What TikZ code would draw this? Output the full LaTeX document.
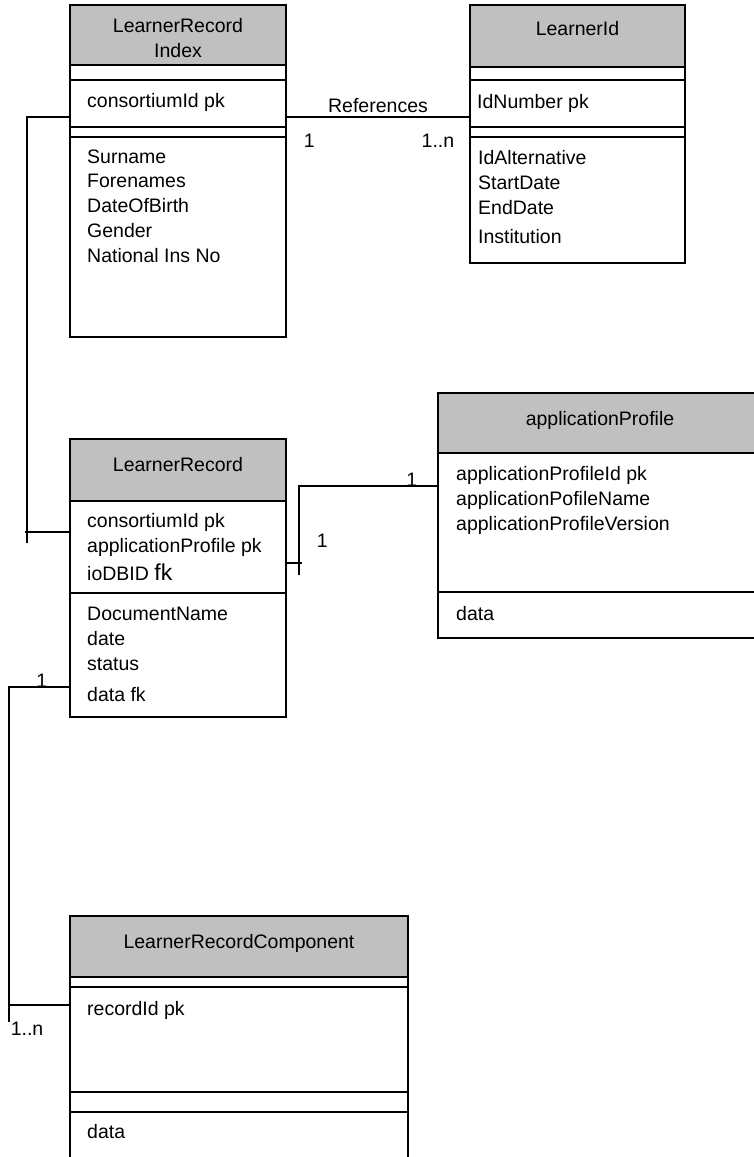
\documentclass[tikz,border=0pt]{standalone}
\usepackage{fontspec}
\setmainfont{Liberation Sans}
\usepackage{tikz}
\usetikzlibrary{positioning,calc}

\definecolor{hdrgray}{RGB}{192,192,192}

\begin{document}
\begin{tikzpicture}[
  x=1pt, y=-1pt,
  cell/.style={draw, line width=1.5pt, anchor=north west, inner sep=0pt, outer sep=0pt,
    minimum width=#1},
  hdr/.style={cell=#1, fill=hdrgray},
  title/.style={anchor=base, font=\fontsize{19.5}{25}\selectfont, align=center, inner sep=0pt},
  attr/.style={anchor=base west, font=\fontsize{19.5}{24.7}\selectfont, align=left, inner sep=0pt},
  link/.style={line width=1.5pt},
  card/.style={font=\fontsize{19.5}{24}\selectfont, inner sep=0pt},
]
\useasboundingbox (0,0) rectangle (754,1157);
\clip (0,0) rectangle (754,1157);

% LearnerRecord Index
\node[hdr=216pt, minimum height=60pt] (idxhead) at (70,5) {};
\node[cell=216pt, minimum height=15pt, below=0pt of idxhead] (idxgap) {};
\node[cell=216pt, minimum height=47pt, below=0pt of idxgap] (idxkey) {};
\node[cell=216pt, minimum height=10pt, below=0pt of idxkey] (idxgap2) {};
\node[cell=216pt, minimum height=200pt, below=0pt of idxgap2] (idxattr) {};
\node[title] (idxtitle) at (178,57) {LearnerRecord\\Index};
\node[attr] (idxpk) at (87,107) {consortiumId pk};
\node[attr] (idxfields) at (87,262) {Surname\\Forenames\\DateOfBirth\\Gender\\National Ins No};

% LearnerId
\node[hdr=215pt, minimum height=62pt] (lidhead) at (470,5) {};
\node[cell=215pt, minimum height=13pt, below=0pt of lidhead] (lidgap) {};
\node[cell=215pt, minimum height=47pt, below=0pt of lidgap] (lidkey) {};
\node[cell=215pt, minimum height=10pt, below=0pt of lidkey] (lidgap2) {};
\node[cell=215pt, minimum height=126pt, below=0pt of lidgap2] (lidattr) {};
\node[title] (lidtitle) at (577.5,35) {LearnerId};
\node[attr] (lidpk) at (477,108) {IdNumber pk};
\node[attr] (lidfields) at (478,243) {IdAlternative\\StartDate\\EndDate\\[4pt]Institution};

% LearnerRecord
\node[hdr=216pt, minimum height=62pt] (lrhead) at (70,439) {};
\node[cell=216pt, minimum height=92pt, below=0pt of lrhead] (lrkey) {};
\node[cell=216pt, minimum height=124pt, below=0pt of lrkey] (lrattr) {};
\node[title] (lrtitle) at (178,471) {LearnerRecord};
\node[attr] (lrpk) at (87,580) {consortiumId pk\\applicationProfile pk\\[3pt]ioDBID {\fontsize{23}{24}\selectfont fk}};
\node[attr] (lrfields) at (87,701) {DocumentName\\date\\status\\[6pt]data fk};

% applicationProfile
\node[hdr=324pt, minimum height=60pt] (aphead) at (438,393) {};
\node[cell=324pt, minimum height=139pt, below=0pt of aphead] (apkey) {};
\node[cell=324pt, minimum height=46pt, below=0pt of apkey] (apdata) {};
\node[title] (aptitle) at (600,425) {applicationProfile};
\node[attr] (appk) at (456,530) {applicationProfileId pk\\applicationPofileName\\applicationProfileVersion};
\node[attr] (apfield) at (456,620) {data};

% LearnerRecordComponent
\node[hdr=338pt, minimum height=61pt] (lrchead) at (70,916) {};
\node[cell=338pt, minimum height=10pt, below=0pt of lrchead] (lrcgap) {};
\node[cell=338pt, minimum height=105pt, below=0pt of lrcgap] (lrckey) {};
\node[cell=338pt, minimum height=20pt, below=0pt of lrckey] (lrcgap2) {};
\node[cell=338pt, minimum height=63pt, below=0pt of lrcgap2] (lrcdata) {};
\node[title] (lrctitle) at (239,948) {LearnerRecordComponent};
\node[attr] (lrcpk) at (87,1015) {recordId pk};
\node[attr] (lrcfield) at (87,1138) {data};

% relationships
\coordinate (idxdrop) at (27,543);
\coordinate (apdrop) at (299,575);
\coordinate (lrcdrop) at (9,1022);

\draw[link] ([yshift=-13.5pt]idxkey.east) -- ([yshift=-13.5pt]lidkey.west)
  node[midway, above=4pt, card] {References}
  node[at start, card, anchor=base west, xshift=17pt, yshift=-30pt] {1}
  node[at end, card, anchor=base east, xshift=-15pt, yshift=-30pt] {1..n};

\draw[link] ([yshift=-13.5pt]idxkey.west) -| (idxdrop);
\draw[link] ([yshift=15pt]lrkey.west) -- ++(-45,0);

\draw[link] ([yshift=36.5pt]apkey.west) -| (apdrop)
  node[at start, card, anchor=base east, xshift=-20pt] {1};
\draw[link] ([yshift=-16pt]lrkey.east) -- ++(16,0)
  node[at end, card, anchor=base west, xshift=14pt, yshift=16pt] {1};

\draw[link] ([yshift=-32pt]lrattr.west) -| (lrcdrop)
  node[at start, card, anchor=base east, xshift=-22pt] {1};
\draw[link] ([yshift=34.5pt]lrckey.west) -- ++(-62,0)
  node[at end, card, anchor=base west, xshift=2pt, yshift=-30pt] {1..n};

\end{tikzpicture}
\end{document}
